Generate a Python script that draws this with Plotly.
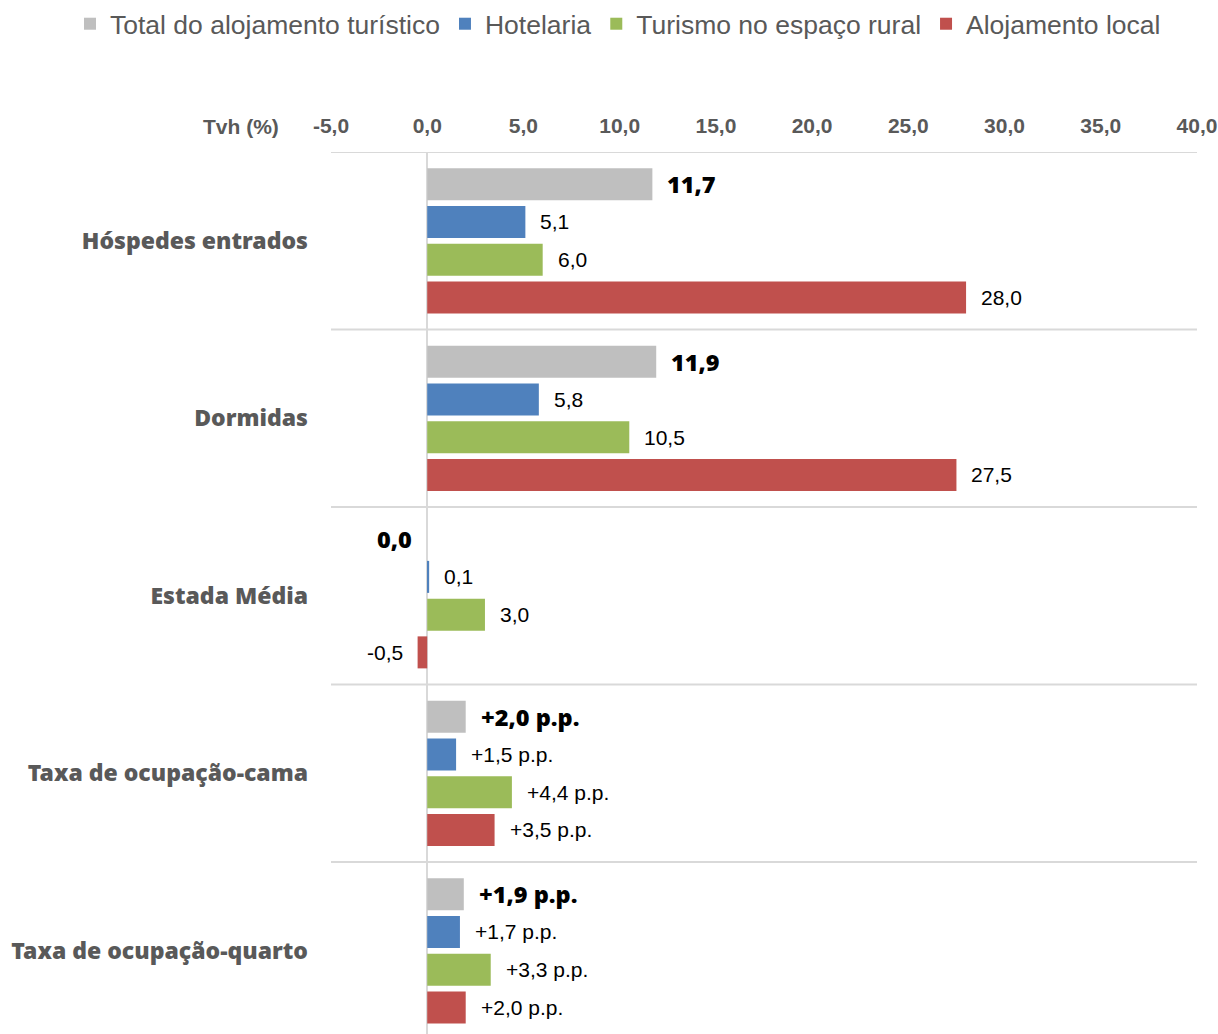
import plotly.graph_objects as go

categories = ["Hóspedes entrados", "Dormidas", "Estada Média",
              "Taxa de ocupação-cama", "Taxa de ocupação-quarto"]
series_names = ["Total do alojamento turístico", "Hotelaria",
                "Turismo no espaço rural", "Alojamento local"]
total = [11.7, 11.9, 0.0, 2.0, 1.9]
hotelaria = [5.1, 5.8, 0.1, 1.5, 1.7]
rural = [6.0, 10.5, 3.0, 4.4, 3.3]
local = [28.0, 27.5, -0.5, 3.5, 2.0]
pp_categories = ["Taxa de ocupação-cama", "Taxa de ocupação-quarto"]
x_ticks = [-5, 0, 5, 10, 15, 20, 25, 30, 35, 40]
x_tick_labels = ["-5,0", "0,0", "5,0", "10,0", "15,0", "20,0", "25,0", "30,0", "35,0", "40,0"]

colors = ["#BFBFBF", "#4F81BD", "#9BBB59", "#C0504D"]
series = [total, hotelaria, rural, local]

W, H = 1218, 1034
ML, MR, MT, MB = 331, 21, 152, 0
band_px = 177.5
plot_w = W - ML - MR
plot_h = H - MT - MB
y_span = plot_h / band_px

pitch = 37.75 / band_px
bar_w = 32.0 / band_px

GRAY = "#595959"
HEAVY = "Noto Sans"

fig = go.Figure()
annotations = []

def fmt(v, cat):
    s = f"{v:.1f}".replace(".", ",")
    if cat in pp_categories:
        s = ("+" if v >= 0 else "") + s + " p.p."
    return s

for j, (name, vals, col) in enumerate(zip(series_names, series, colors)):
    ys = [i + (j - 1.5) * pitch for i in range(len(categories))]
    fig.add_trace(go.Bar(
        name=name, x=vals, y=ys, orientation="h", width=bar_w,
        marker=dict(color=col, line=dict(width=0)),
        hoverinfo="x+name",
    ))
    for v, yv, cat in zip(vals, ys, categories):
        pos = v > 0
        annotations.append(dict(
            x=v, y=yv, xref="x", yref="y", text=fmt(v, cat), showarrow=False,
            xanchor="left" if pos else "right", xshift=13 if pos else -13,
            yanchor="middle",
            font=dict(family=HEAVY, size=23.5, color="black", weight=900) if j == 0
            else dict(family="Liberation Sans, Arial", size=21, color="black"),
        ))

annotations.append(dict(
    x=0, y=1, xref="paper", yref="paper", text="Tvh (%)", showarrow=False,
    xanchor="right", yanchor="middle", xshift=-50, yshift=26,
    font=dict(family="Liberation Sans, Arial", size=21, color=GRAY, weight="bold"),
))

shapes = []
for i in range(len(categories) + 1):
    shapes.append(dict(type="line", xref="paper", x0=0, x1=1, yref="y",
                       y0=i - 0.5, y1=i - 0.5,
                       line=dict(color="#D9D9D9", width=2), layer="below"))

fig.update_layout(
    width=W, height=H,
    margin=dict(l=ML, r=MR, t=MT, b=MB, pad=0),
    paper_bgcolor="white", plot_bgcolor="white",
    barmode="overlay",
    showlegend=True,
    legend=dict(orientation="h", xref="paper", yref="paper",
                x=(70 - ML) / plot_w, xanchor="left",
                y=1 + MT / plot_h, yanchor="top",
                font=dict(family="Liberation Sans, Arial", size=26.5, color=GRAY),
                itemwidth=30, tracegroupgap=0, traceorder="normal"),
    annotations=annotations,
    shapes=shapes,
    xaxis=dict(side="top", range=[-5, 40], tickvals=x_ticks, ticktext=x_tick_labels,
               showgrid=False, zeroline=True, zerolinecolor="#D9D9D9", zerolinewidth=2,
               showline=False, ticks="", ticklabelstandoff=14,
               tickfont=dict(family="Liberation Sans, Arial", size=21, color=GRAY, weight="bold")),
    yaxis=dict(range=[-0.5 + y_span, -0.5], tickvals=list(range(len(categories))),
               ticktext=categories, showgrid=False, zeroline=False, showline=False,
               ticks="", ticklabelstandoff=22,
               tickfont=dict(family=HEAVY, size=23, color=GRAY, weight=900)),
)

fig.write_html("out.html", config={"displayModeBar": False},
               post_script="document.body.style.margin='0';")
